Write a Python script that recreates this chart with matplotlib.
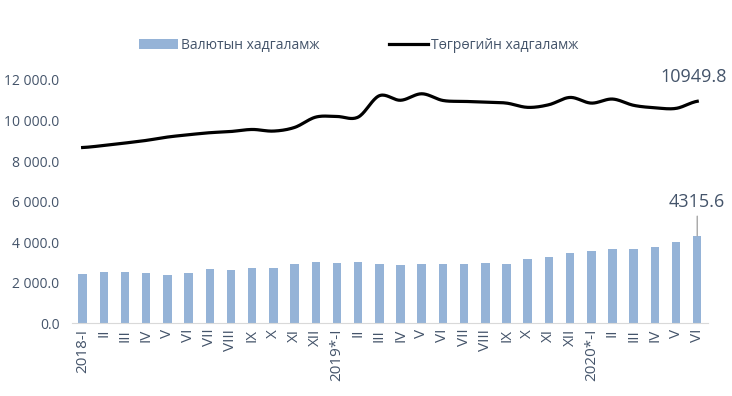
import matplotlib.pyplot as plt
import numpy as np
from matplotlib.ticker import FuncFormatter

plt.rcParams['font.family'] = ['Open Sans', 'DejaVu Sans']

roman = ['I', 'II', 'III', 'IV', 'V', 'VI', 'VII', 'VIII', 'IX', 'X', 'XI', 'XII']
months = ['2018-I'] + roman[1:] + ['2019*-I'] + roman[1:] + ['2020*-I'] + roman[1:6]

# Валютын хадгаламж (bars)
fx_deposits = [2420, 2535, 2520, 2485, 2400, 2500, 2665, 2630, 2730, 2750,
               2910, 3030, 2960, 3030, 2910, 2880, 2930, 2940, 2930, 2960,
               2930, 3160, 3275, 3490, 3570, 3655, 3685, 3770, 4000, 4315.6]
# Төгрөгийн хадгаламж (line)
mnt_deposits = [8670, 8770, 8890, 9020, 9185, 9300, 9400, 9460, 9560, 9480,
                9660, 10170, 10200, 10170, 11225, 11000, 11320, 10990, 10945, 10910,
                10860, 10650, 10780, 11140, 10860, 11060, 10750, 10630, 10600, 10949.8]

text_col = '#44546A'
bar_col = '#95B3D7'


def smooth(y, n=20):
    # catmull-rom style smoothing like Excel's smoothed line
    y = np.asarray(y, dtype=float)
    p = np.concatenate([[y[0]], y, [y[-1]]])
    xs, ys = [], []
    for i in range(len(y) - 1):
        p0, p1, p2, p3 = p[i], p[i + 1], p[i + 2], p[i + 3]
        t = np.linspace(0, 1, n, endpoint=False)
        v = 0.5 * ((2 * p1) + (-p0 + p2) * t + (2 * p0 - 5 * p1 + 4 * p2 - p3) * t ** 2
                   + (-p0 + 3 * p1 - 3 * p2 + p3) * t ** 3)
        xs.append(i + t)
        ys.append(v)
    xs.append([len(y) - 1])
    ys.append([y[-1]])
    return np.concatenate(xs), np.concatenate(ys)


fig = plt.figure(figsize=(7.32, 3.96), dpi=100)
ax = fig.add_axes([0.0984, 0.1836, 0.8686, 0.6144])

x = np.arange(len(months))
bars = ax.bar(x, fx_deposits, width=0.4, color=bar_col, label='Валютын хадгаламж', zorder=2)
sx, sy = smooth(mnt_deposits)
line, = ax.plot(sx, sy, color='black', lw=2.3, label='Төгрөгийн хадгаламж', zorder=3)

ax.set_xlim(-0.5, len(months) - 0.5)
ax.set_ylim(0, 12000)
ax.set_yticks(np.arange(0, 12001, 2000))
ax.yaxis.set_major_formatter(FuncFormatter(lambda v, p: f'{v:,.1f}'.replace(',', ' ')))
ax.set_xticks(x)
ax.set_xticklabels(months, rotation=90)
ax.tick_params(axis='both', length=0, colors=text_col, labelsize=10)
ax.tick_params(axis='x', labelsize=11, pad=4)
ax.tick_params(axis='y', pad=9)

for s in ['top', 'right', 'left']:
    ax.spines[s].set_visible(False)
ax.spines['bottom'].set_color('#D9D9D9')

ax.annotate(f'{mnt_deposits[-1]}', xy=(x[-1], mnt_deposits[-1]), xytext=(x[-1] - 0.15, 12150),
            ha='center', va='center', fontsize=13, color=text_col)
ax.annotate(f'{fx_deposits[-1]}', xy=(x[-1], fx_deposits[-1]), xytext=(x[-1], 6000),
            ha='center', va='center', fontsize=13, color=text_col,
            arrowprops=dict(arrowstyle='-', color='#A6A6A6', lw=1, shrinkA=2, shrinkB=0))

fig.legend([bars, line], ['Валютын хадгаламж', 'Төгрөгийн хадгаламж'],
           loc='center', bbox_to_anchor=(0.49, 0.885), ncol=2, frameon=False,
           fontsize=10, labelcolor=text_col, handlelength=2.8, handletextpad=0.2,
           columnspacing=5)

fig.savefig('out.png', dpi=100)
